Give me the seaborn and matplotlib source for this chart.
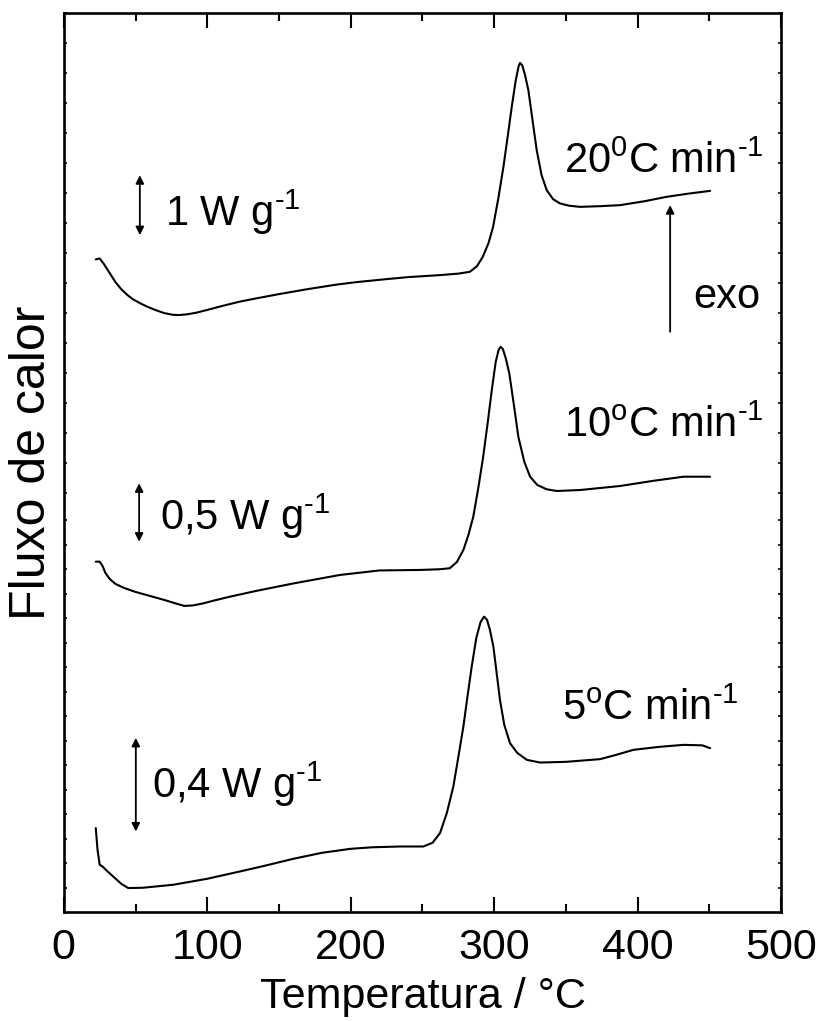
import numpy as np
import pandas as pd
import matplotlib
matplotlib.use("Agg")
import matplotlib.pyplot as plt
from matplotlib.ticker import FixedLocator, MultipleLocator
import seaborn as sns

# ---- data (temperature in °C, heat flow in arbitrary offset units) ----
t20 = [22.3, 25, 28, 32, 36, 40, 44, 48, 53, 58, 64, 70, 76, 80, 86, 92, 99.5, 110,
       122.7, 134, 150, 170, 190, 204, 225, 240, 262, 275, 283, 288, 292, 296, 299.2,
       303, 306.4, 309.5, 312.2, 315, 317, 318, 319.5, 321.5, 323.8, 326.5, 329.6, 333,
       336.6, 341, 345.9, 352, 359.8, 374, 387.7, 405, 420, 435, 450.5]
f20 = [652.7, 653.7, 648, 639, 630, 623, 617.5, 613, 609, 605.5, 602, 599, 597.3, 597,
       597.8, 599.3, 602, 606, 610.5, 613.7, 618, 623, 627.5, 630, 633, 635, 637, 638.5,
       640.3, 646, 655.3, 669, 685.3, 715, 745.3, 777, 805.3, 832, 846, 849.3, 847, 837,
       822, 794, 762, 737, 722, 713, 708.7, 706.5, 705.3, 706, 707, 711, 715.3, 718.5,
       721.3]

t10 = [22.3, 25, 27, 29, 32, 36, 42, 50, 60, 70, 78, 84, 90, 97, 105, 115, 134, 160,
       192.5, 220, 248, 262, 269, 274, 278.5, 282, 285.4, 289, 292.3, 295.5, 298.3, 301,
       303, 304.5, 306, 308, 310.5, 313.5, 316.8, 321, 325, 330, 336.6, 343.6, 360,
       387.7, 410, 431.9, 450.5]
f10 = [350.3, 350.3, 346, 339, 333, 328, 324, 320, 316, 312, 308.5, 306, 306.5, 308.5,
       311.5, 315, 321, 328.5, 337, 341.5, 342, 342.7, 343.7, 350, 362, 377, 395.3, 425,
       455.3, 490, 522, 550, 562, 565.3, 563, 554, 538.7, 509, 475.3, 450, 435.3, 427,
       422.7, 421, 422, 426, 431, 435.3, 435.3]

t5 = [22.3, 23.5, 25, 27, 30, 34.4, 40, 44.9, 55, 76.2, 100, 122.7, 140, 160, 180, 200,
      215, 234.3, 250.6, 257, 262.2, 267, 271.5, 275, 278.5, 281.5, 284.3, 287.5, 290.5,
      292.9, 295, 297, 299.4, 304, 307, 311, 316, 322.7, 332, 350, 373.8, 385, 397, 415,
      432, 445, 450.5]
f5 = [83.7, 62, 47, 45.3, 41, 35.3, 28, 23.7, 24, 27, 33, 40.3, 46, 53, 59, 63, 64.5,
      65.3, 65.3, 69, 78.7, 99, 125.3, 155, 185.3, 217, 245.3, 274, 290, 295.3, 292, 282,
      265.3, 212, 187, 168.7, 159, 152, 149.3, 150, 152.7, 157, 162, 165, 167, 166.5,
      163.7]

rate_labels = [r"20$^{0}$C min$^{\text{-1}}$", r"10$^{o}$C min$^{\text{-1}}$",
               r"5$^{o}$C min$^{\text{-1}}$"]
scale_labels = [r"1 W g$^{\text{-1}}$", r"0,5 W g$^{\text{-1}}$", r"0,4 W g$^{\text{-1}}$"]

sns.set_theme(style="ticks")
plt.rcParams["font.family"] = ["Liberation Sans", "DejaVu Sans"]
plt.rcParams["mathtext.fontset"] = "custom"
plt.rcParams["mathtext.rm"] = "Liberation Sans"
plt.rcParams["mathtext.default"] = "regular"
plt.rcParams["text.color"] = "black"
plt.rcParams["axes.labelcolor"] = "black"
plt.rcParams["xtick.color"] = "black"
plt.rcParams["ytick.color"] = "black"

fig, ax = plt.subplots(figsize=(8.18, 10.21), dpi=100)
fig.subplots_adjust(left=0.078, right=0.955, bottom=0.107, top=0.987)

for t, f in [(t20, f20), (t10, f10), (t5, f5)]:
    df = pd.DataFrame({"T": t, "F": f})
    sns.lineplot(data=df, x="T", y="F", ax=ax, color="black", lw=1.5,
                 sort=False, estimator=None)

ax.set_xlim(0, 500)
ax.set_ylim(0, 899)
ax.xaxis.set_major_locator(MultipleLocator(100))
ax.xaxis.set_minor_locator(MultipleLocator(50))
yt = list(899 - 30 * np.arange(17)) + list(24 + 24.5 * np.arange(16))
ax.yaxis.set_major_locator(FixedLocator(yt))
ax.set_yticklabels([])

for s in ax.spines.values():
    s.set_linewidth(1.9)
    s.set_color("black")
ax.tick_params(axis="x", which="major", direction="in", length=11, width=1.5,
               top=True, bottom=True, labelsize=31, pad=12, colors="black")
ax.tick_params(axis="x", which="minor", direction="in", length=6, width=1.5,
               top=True, bottom=True)
ax.tick_params(axis="y", which="major", direction="in", length=2.5, width=1.2,
               left=True, right=True, labelleft=False)

ax.set_xlabel("Temperatura / °C", fontsize=31)
ax.set_ylabel("Fluxo de calor", fontsize=36)
ax.xaxis.set_label_coords(0.5, -0.073)
ax.yaxis.set_label_coords(-0.012, 0.5)

# scale bars
arr = dict(arrowstyle="<|-|>", color="black", lw=1.3, mutation_scale=12,
           shrinkA=0, shrinkB=0)
ax.annotate("", xy=(53, 737), xytext=(53, 677), arrowprops=arr)
ax.annotate("", xy=(52.5, 428.7), xytext=(52.5, 370.3), arrowprops=arr)
ax.annotate("", xy=(50.2, 174), xytext=(50.2, 80.3), arrowprops=arr)
ax.annotate("", xy=(422.6, 707), xytext=(422.6, 580.3),
            arrowprops=dict(arrowstyle="-|>", color="black", lw=1.3,
                            mutation_scale=12, shrinkA=0, shrinkB=0))

ax.text(70.4, 686, scale_labels[0], fontsize=30, va="baseline", ha="left")
ax.text(67, 382, scale_labels[1], fontsize=30, va="baseline", ha="left")
ax.text(61.2, 114, scale_labels[2], fontsize=30, va="baseline", ha="left")
ax.text(438.6, 604, "exo", fontsize=30, va="baseline", ha="left")
ax.text(487.5, 739, rate_labels[0], fontsize=30, va="baseline", ha="right")
ax.text(487.5, 475, rate_labels[1], fontsize=30, va="baseline", ha="right")
ax.text(470, 192, rate_labels[2], fontsize=30, va="baseline", ha="right")

fig.savefig("out.png", dpi=100)
